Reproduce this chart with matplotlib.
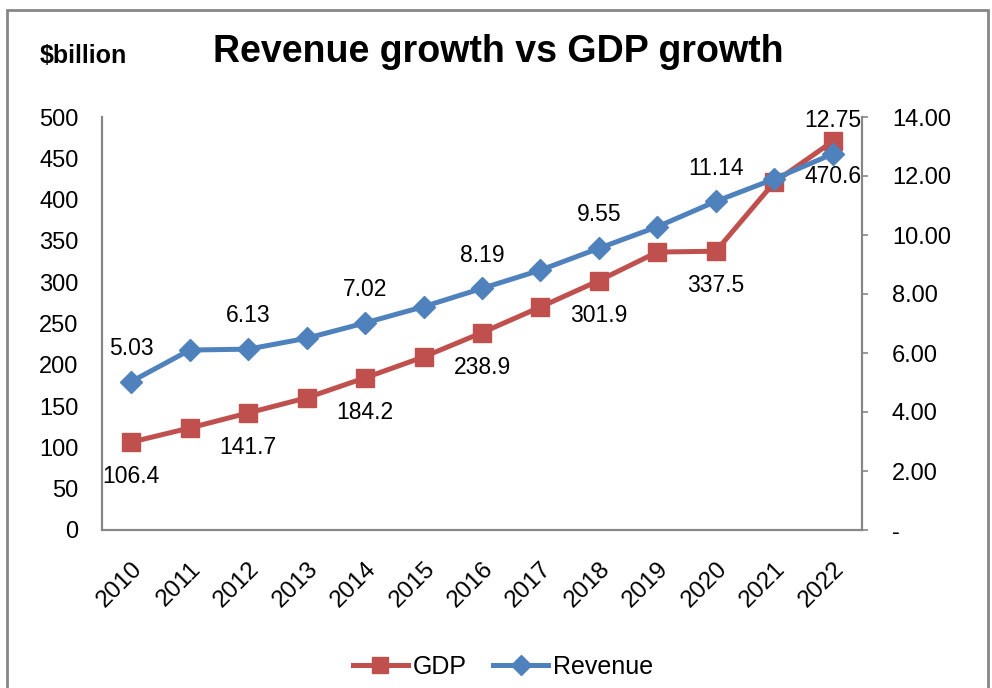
import matplotlib
matplotlib.use("Agg")
import matplotlib.pyplot as plt
from matplotlib.patches import Rectangle
from matplotlib.ticker import FuncFormatter

plt.rcParams['font.family'] = ['Liberation Sans', 'DejaVu Sans']

years = ['2010', '2011', '2012', '2013', '2014', '2015', '2016',
         '2017', '2018', '2019', '2020', '2021', '2022']
gdp = [106.4, 123.5, 141.7, 160.0, 184.2, 209.5, 238.9,
       270.0, 301.9, 336.5, 337.5, 421.0, 470.6]
revenue = [5.03, 6.10, 6.13, 6.50, 7.02, 7.57, 8.19,
           8.81, 9.55, 10.28, 11.14, 11.90, 12.75]
labeled_idx = [0, 2, 4, 6, 8, 10, 12]

RED = '#C0504D'
BLUE = '#4F81BD'
GRAY = '#868686'

fig = plt.figure(figsize=(9.92, 6.88), dpi=100)
ax = fig.add_axes([102/992, 1-530/688, 760/992, 413/688])
ax2 = ax.twinx()

x = list(range(len(years)))
ax.plot(x, gdp, color=RED, lw=3.6, marker='s', ms=13, zorder=3, label='GDP')
ax2.plot(x, revenue, color=BLUE, lw=3.6, marker='D', ms=11, zorder=3, label='Revenue')

ax.set_xlim(-0.5, len(years) - 0.5)
ax.set_ylim(0, 500)
ax.set_yticks(range(0, 501, 50))
ax2.set_ylim(0, 14)
ax2.set_yticks(range(0, 15, 2))
ax2.yaxis.set_major_formatter(FuncFormatter(lambda v, p: '-' if v == 0 else f'{v:.2f}'))

ax.set_xticks(x)
ax.set_xticklabels(years, rotation=45, ha='right', rotation_mode='anchor', fontsize=17.5)
ax.tick_params(axis='x', length=0, pad=20)
ax.tick_params(axis='y', length=0, pad=17, labelsize=17)
ax2.tick_params(axis='y', length=4, width=1.2, color=GRAY, pad=17.5, labelsize=17)

for a in (ax, ax2):
    a.spines['top'].set_visible(False)
    for s in ('left', 'right', 'bottom'):
        a.spines[s].set_color(GRAY)
        a.spines[s].set_linewidth(1.5)
ax.patch.set_visible(False)

for i in labeled_idx:
    ax.annotate(f'{gdp[i]:g}', (x[i], gdp[i]), xytext=(0, -25), textcoords='offset points',
                ha='center', va='center', fontsize=16.5, zorder=5)
    ax2.annotate(f'{revenue[i]:.2f}', (x[i], revenue[i]), xytext=(0, 24), textcoords='offset points',
                 ha='center', va='center', fontsize=16.5, zorder=5)

fig.text(83/992, 1-56/688, '$billion', fontsize=18, fontweight='bold', ha='center', va='center')
fig.text(498/992, 1-52/688, 'Revenue growth vs GDP growth', fontsize=27, fontweight='bold',
         ha='center', va='center')

h1, l1 = ax.get_legend_handles_labels()
h2, l2 = ax2.get_legend_handles_labels()
fig.legend(h1 + h2, l1 + l2, loc='center', bbox_to_anchor=(503/992, 1-667/688), ncol=2,
           frameon=False, fontsize=18, handlelength=2.2, columnspacing=1.05, handletextpad=0.2,
           markerscale=0.9)

fig.patches.append(Rectangle((7/992, -0.05), 981/992, 1.05 - 10/688, transform=fig.transFigure,
                             fill=False, edgecolor=GRAY, lw=2))

fig.savefig('out.png', dpi=100)
